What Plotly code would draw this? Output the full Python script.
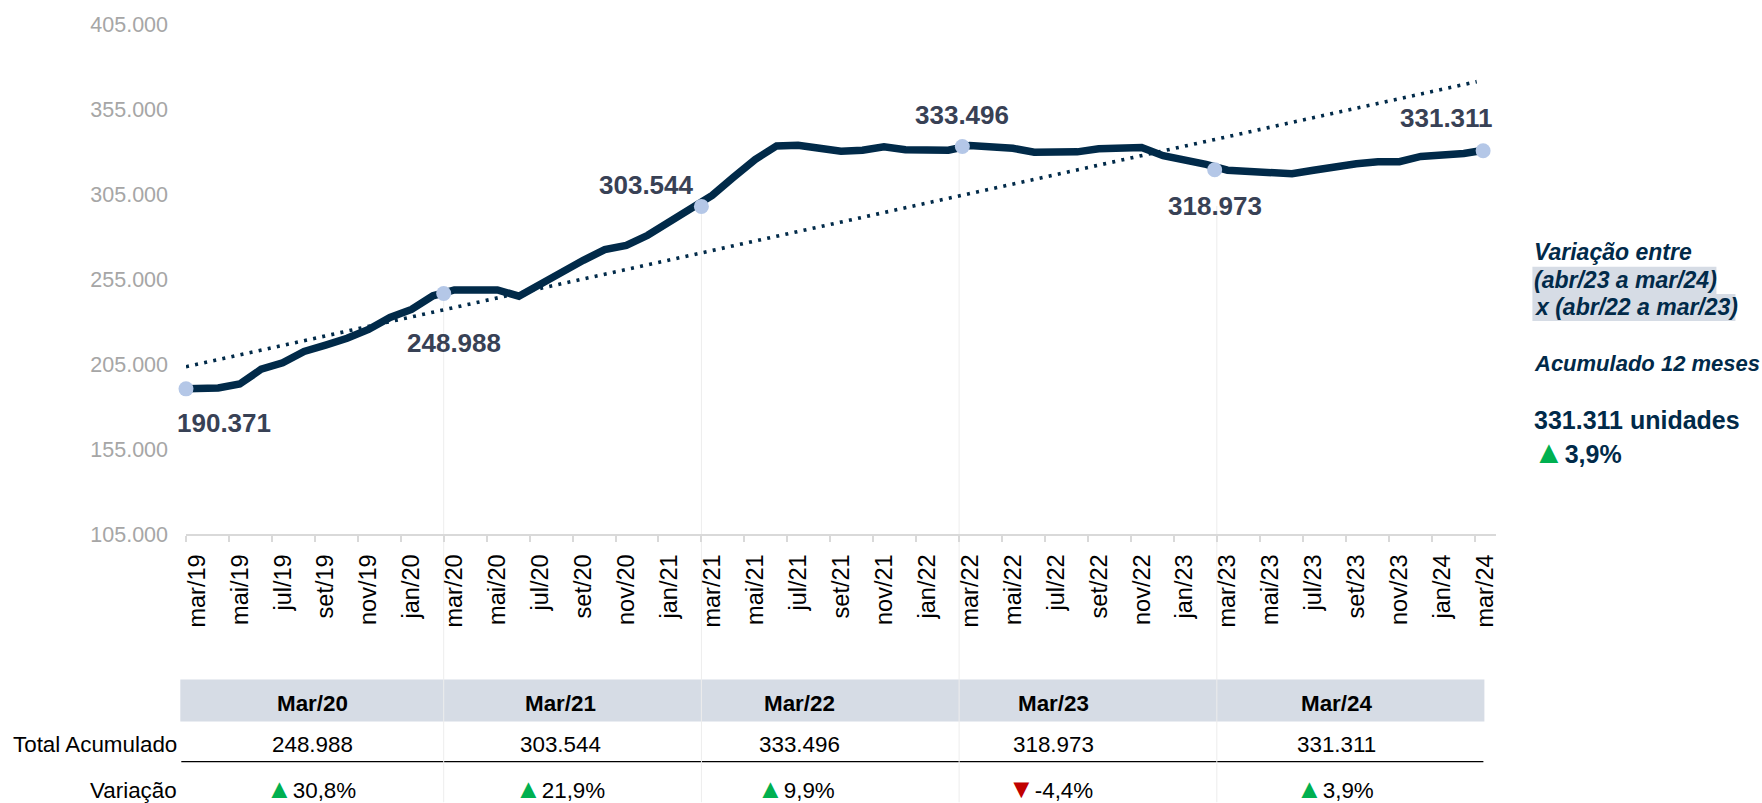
import plotly.graph_objects as go

FONT = "Liberation Sans"
NAVY = "#012A49"
BAND = "#D6DCE5"
GREEN = "#00B050"
RED = "#C00000"

month_names = ["jan", "fev", "mar", "abr", "mai", "jun", "jul", "ago", "set", "out", "nov", "dez"]
months = [f"{month_names[(2 + i) % 12]}/{19 + (2 + i) // 12}" for i in range(61)]

values = [
    190371, 190900, 193200, 201900, 205700, 212400, 216100, 220100, 225300, 232400,
    237100, 245100, 248600, 249000, 248600, 244900, 252300, 259100, 266000, 272300,
    274800, 280700, 288500, 295400, 304200, 314900, 325300, 333300, 333700, 331900,
    330200, 330800, 332800, 331000, 331300, 330800, 333500, 332900, 331900, 329600,
    329800, 329800, 331600, 331600, 332300, 327500, 325100, 322400, 319000, 318300,
    318300, 316900, 319000, 321200, 322800, 324000, 324000, 327100, 327800, 328800,
    330900,
]
lead_in_value = 190371

trend_x = [-0.5, 59.6]
trend_values = [203400, 371100]

key_x = [-0.5, 11.5, 23.5, 35.65, 47.4, 59.9]
key_values = [190371, 246500, 297700, 332900, 319300, 330400]
key_labels = ["190.371", "248.988", "303.544", "333.496", "318.973", "331.311"]
key_label_shift = [(38, -34.6), (10, -50), (-54.7, 21), (0, 31.4), (0, -36), (-37, 33)]

y_ticks = [105000, 155000, 205000, 255000, 305000, 355000, 405000]
y_tick_text = ["105.000", "155.000", "205.000", "255.000", "305.000", "355.000", "405.000"]

table_headers = ["Mar/20", "Mar/21", "Mar/22", "Mar/23", "Mar/24"]
table_totals = ["248.988", "303.544", "333.496", "318.973", "331.311"]
table_changes = ["30,8%", "21,9%", "9,9%", "-4,4%", "3,9%"]
table_up = [True, True, True, False, True]
guide_ticks = [11.5, 23.5, 35.5, 47.5]
guide_values = [246500, 297700, 332900, 298000]

W, H = 1762, 803
L, R, T, B = 185.7, 1495.6, 23.5, 534.3


def px(x):
    return (x - L) / (R - L)


def py(y):
    return (B - y) / (B - T)


fig = go.Figure()
fig.add_trace(go.Scatter(x=trend_x, y=trend_values, mode="lines", cliponaxis=False,
                         line=dict(color=NAVY, width=3.6, dash="3px,6.3px"), hoverinfo="skip"))
fig.add_trace(go.Scatter(x=[key_x[0]] + list(range(61)), y=[lead_in_value] + values, mode="lines",
                         cliponaxis=False, line=dict(color=NAVY, width=7.5), hoverinfo="skip"))
fig.add_trace(go.Scatter(x=key_x, y=key_values, mode="markers", cliponaxis=False,
                         marker=dict(color="#B4C7E7", size=15), hoverinfo="skip"))

shapes = [
    dict(type="rect", xref="paper", yref="paper", x0=px(180), x1=px(1484), y0=py(722), y1=py(680),
         fillcolor=BAND, line_width=0, layer="below"),
    dict(type="line", xref="paper", yref="paper", x0=px(181), x1=px(1483), y0=py(762.3), y1=py(762.3),
         line=dict(color="#000000", width=1.3), layer="below"),
    dict(type="rect", xref="paper", yref="paper", x0=px(1532), x1=px(1716), y0=py(294), y1=py(266.7),
         fillcolor=BAND, line_width=0, layer="below"),
    dict(type="rect", xref="paper", yref="paper", x0=px(1532), x1=px(1735), y0=py(321), y1=py(294),
         fillcolor=BAND, line_width=0, layer="below"),
]
for gx, gv in zip(guide_ticks, guide_values):
    shapes.append(dict(type="line", xref="x", yref="paper", x0=gx, x1=gx,
                       y0=(gv - 105000) / 300000, y1=py(803),
                       line=dict(color="#EDEDED", width=1), layer="below"))

annotations = []


def text(x, y, s, size=22, color="#000000", anchor="center", bold=False, italic=False):
    if bold:
        s = f"<b>{s}</b>"
    if italic:
        s = f"<i>{s}</i>"
    annotations.append(dict(xref="paper", yref="paper", x=px(x), y=py(y), text=s, showarrow=False,
                            xanchor=anchor, yanchor="middle", align="left",
                            font=dict(family=FONT, size=size, color=color)))


for kx, kv, kl, (dx, dy) in zip(key_x, key_values, key_labels, key_label_shift):
    annotations.append(dict(xref="x", yref="y", x=kx, y=kv, text=f"<b>{kl}</b>", showarrow=False,
                            xshift=dx, yshift=dy, xanchor="center", yanchor="middle",
                            font=dict(family=FONT, size=26, color="#384155")))

head_x = [312.5, 560, 799, 1053, 1336]
change_x = [311, 559.5, 795.5, 1050, 1334.5]
for hx, cx, h, t, c, up in zip(head_x, change_x, table_headers, table_totals, table_changes, table_up):
    text(hx, 704, h, size=22.4, bold=True)
    text(hx, 745, t, size=22.4)
    arrow = f'<span style="color:{GREEN if up else RED};font-size:27px">{"▲" if up else "▼"}</span>'
    text(cx, 790, arrow + c, size=22.4)
text(179, 745, "Total Acumulado", size=22.4, anchor="right")
text(179, 791, "Variação", size=22.4, anchor="right")

text(1532, 252, "Variação entre", 23, NAVY, "left", True, True)
text(1532, 280, "(abr/23 a mar/24)", 23, NAVY, "left", True, True)
text(1532, 307, "x (abr/22 a mar/23)", 23, NAVY, "left", True, True)
text(1532, 364, "Acumulado 12 meses", 22, NAVY, "left", True, True)
text(1532, 420.5, "331.311 unidades", 25, NAVY, "left", True)
text(1530.5, 452, f'<span style="color:{GREEN};font-size:32px">▲</span>3,9%', 25, NAVY, "left", True)

fig.update_layout(
    width=W, height=H, autosize=False, showlegend=False,
    paper_bgcolor="white", plot_bgcolor="white",
    margin=dict(l=L, r=W - R, t=T, b=H - B, pad=0),
    shapes=shapes, annotations=annotations,
    xaxis=dict(range=[-0.5, 60.5], showgrid=False, zeroline=False, showline=True,
               linecolor="#D9D9D9", linewidth=2,
               tickmode="array", tickvals=[i - 0.5 for i in range(0, 61, 2)], ticktext=months[::2],
               ticks="outside", ticklen=6, tickwidth=2, tickcolor="#D9D9D9",
               tickangle=-90, ticklabelshift=11, ticklabelstandoff=3,
               tickfont=dict(family=FONT, size=23.5, color="#000000")),
    yaxis=dict(range=[105000, 405000], showgrid=False, zeroline=False, showline=False,
               tickmode="array", tickvals=y_ticks, ticktext=y_tick_text,
               ticks="", ticklabelstandoff=17,
               tickfont=dict(family=FONT, size=21.5, color="#A6A6A6")),
)

fig.write_html("out.html", config={"displayModeBar": False},
               post_script="document.body.style.margin='0';")
